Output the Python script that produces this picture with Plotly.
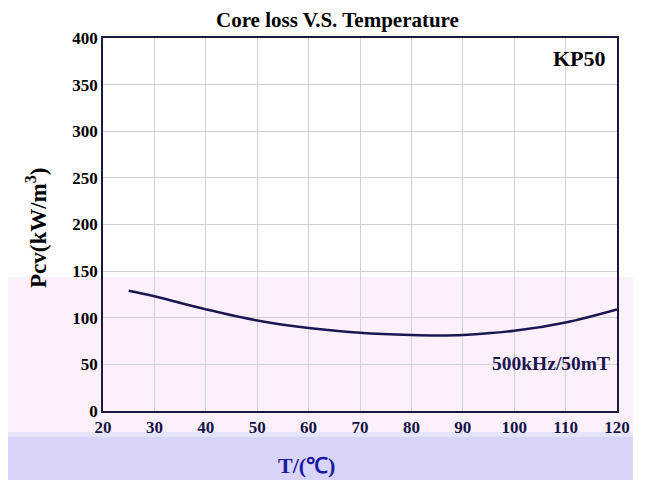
import plotly.graph_objects as go

temps = [25, 30, 40, 50, 60, 70, 80, 85, 90, 100, 110, 120]
pcv = [129, 123, 109, 97, 89, 84, 81.5, 81, 81.5, 86, 95, 109]
x_ticks = [20, 30, 40, 50, 60, 70, 80, 90, 100, 110, 120]
y_ticks = [0, 50, 100, 150, 200, 250, 300, 350, 400]

OFF = 8  # page body margin
W, H = 645 - OFF, 480 - OFF
# plot area in page pixels: x 103..617, y 38..411
L, T = 103 - OFF, 38 - OFF
R = W - (617 - OFF)
B = H - (411 - OFF)
pw, ph = W - L - R, H - T - B

def px(x):
    return (x - OFF - L) / pw

def py(y):
    return (H - B - (y - OFF)) / ph

serif = "Liberation Serif"
fig = go.Figure()
fig.add_trace(go.Scatter(x=temps, y=pcv, mode="lines", line=dict(color="#1c1650", width=2.5, shape="spline"),
                         hoverinfo="skip", showlegend=False))

shapes = [
    dict(type="rect", xref="paper", yref="paper", x0=px(0), x1=px(633), y0=py(432), y1=py(277),
         fillcolor="#fcf0fc", line_width=0, layer="below"),
    dict(type="rect", xref="paper", yref="paper", x0=px(0), x1=px(633), y0=py(480), y1=py(432),
         fillcolor="#d8d4fa", line_width=0, layer="below"),
    dict(type="rect", xref="paper", yref="paper", x0=px(0), x1=px(633), y0=py(437), y1=py(432),
         fillcolor="#e6e4fb", line_width=0, layer="below"),
]

fig.update_layout(
    width=W, height=H,
    margin=dict(l=L, r=R, t=T, b=B),
    paper_bgcolor="white", plot_bgcolor="rgba(0,0,0,0)",
    shapes=shapes,
    xaxis=dict(range=[20, 120], tickvals=x_ticks, showgrid=True, gridcolor="#d2d2d2", gridwidth=1,
               showline=True, linecolor="#1a1a40", linewidth=1.5, mirror=True, ticks="", zeroline=False,
               tickfont=dict(family=serif, size=17, color="#141446", weight="bold")),
    yaxis=dict(range=[0, 400], tickvals=y_ticks, showgrid=True, gridcolor="#d2d2d2", gridwidth=1,
               showline=True, linecolor="#1a1a40", linewidth=1.5, mirror=True, ticks="", zeroline=False,
               tickfont=dict(family=serif, size=17, color="black", weight="bold")),
    annotations=[
        dict(text="Core loss V.S. Temperature", xref="paper", yref="paper", x=px(337), y=py(20),
             xanchor="center", yanchor="middle", showarrow=False,
             font=dict(family=serif, size=21, color="black", weight="bold")),
        dict(text="Pcv(kW/m<sup>3</sup>)", xref="paper", yref="paper", x=px(36), y=py(228), textangle=-90,
             xanchor="center", yanchor="middle", showarrow=False,
             font=dict(family=serif, size=23, color="black", weight="bold")),
        dict(text="T/(℃)", xref="paper", yref="paper", x=px(306), y=py(465),
             xanchor="center", yanchor="middle", showarrow=False,
             font=dict(family=serif, size=22, color="#1a1aa0", weight="bold")),
        dict(text="KP50", xref="paper", yref="paper", x=px(608), y=py(58), xanchor="right", yanchor="middle",
             showarrow=False, font=dict(family=serif, size=22, color="black", weight="bold")),
        dict(text="500kHz/50mT", xref="paper", yref="paper", x=px(612), y=py(363), xanchor="right", yanchor="middle",
             showarrow=False, font=dict(family=serif, size=19.5, color="#1c1650", weight="bold")),
    ],
)

fig.write_html("out.html")
